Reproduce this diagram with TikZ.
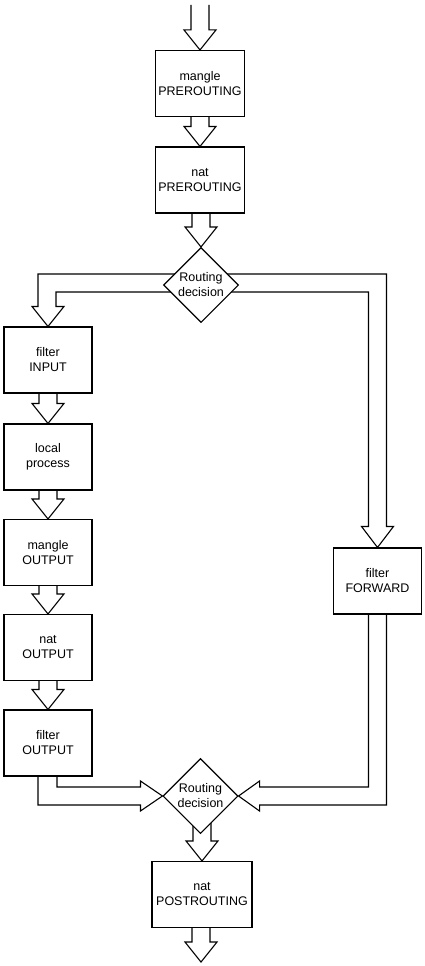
\documentclass[tikz,border=0pt]{standalone}
\usepackage{fontspec}
\setmainfont{Liberation Sans}
\usetikzlibrary{shapes.geometric, calc, backgrounds}

\begin{document}
\begin{tikzpicture}[
  x=1pt, y=-1pt,
  chain/.style={rectangle, draw=black, fill=white, line width=1.1pt,
    minimum width=88pt, minimum height=66pt, inner sep=3pt, align=center,
    font=\fontsize{12.5}{15}\selectfont},
  decision/.style={diamond, draw=black, fill=white, line width=1.1pt,
    minimum width=75pt, minimum height=75pt, inner sep=0pt, align=center,
    font=\fontsize{12.5}{15}\selectfont},
  blk/.style={draw=black, fill=white, line width=1.1pt, line join=miter}
]
\useasboundingbox (0,0) rectangle (425,966);

% ---- Ends of the packet path ----
\coordinate (in) at (201,5);
\coordinate (out) at (201,962);

% ---- PREROUTING ----
\node[chain] (mpre) at (200,83.5) {mangle\\PREROUTING};
\node[chain] (npre) at (200,180) {nat\\PREROUTING};
\node[decision] (rd1) at (201,285) {Routing\\decision};

% ---- Local path ----
\node[chain] (fin) at (48,360) {filter\\INPUT};
\node[chain] (lp) at (48,457) {local\\process};
\node[chain] (mout) at (48,552.5) {mangle\\OUTPUT};
\node[chain] (nout) at (48,647.5) {nat\\OUTPUT};
\node[chain] (fout) at (48,743) {filter\\OUTPUT};

% ---- Forward path ----
\node[chain] (fwd) at (377.5,581) {filter\\FORWARD};

% ---- POSTROUTING ----
\node[decision] (rd2) at (200.5,796) {Routing\\decision};
\node[chain, minimum width=100pt] (npost) at (202,894.5) {nat\\POSTROUTING};

\begin{pgfonlayer}{background}
% ---- Straight block arrows ----
\foreach \src/\dst in {in/mpre.north, mpre.south/npre.north, npre.south/rd1.north,
    fin.south/lp.north, lp.south/mout.north, mout.south/nout.north,
    nout.south/fout.north, rd2.center/npost.north, npost.south/out}
  \draw[blk] let \p1=(\src), \p2=(\dst) in
    (\x2-9pt,\y1) -- (\x2-9pt,\y2+20pt) -- (\x2-16pt,\y2+20pt) -- (\x2,\y2)
    -- (\x2+16pt,\y2+20pt) -- (\x2+9pt,\y2+20pt) -- (\x2+9pt,\y1);

% ---- Branches out of the first decision ----
\draw[blk] let \p1=(rd1.center), \p2=(fin.north) in
  (\x1,\y1+11pt) -- (\x2-10pt,\y1+11pt) -- (\x2-10pt,\y2+20pt) -- (\x2-16pt,\y2+20pt)
  -- (\x2,\y2) -- (\x2+16pt,\y2+20pt) -- (\x2+8pt,\y2+20pt) -- (\x2+8pt,\y1-7pt)
  -- (\x1,\y1-7pt);
\draw[blk] let \p1=(rd1.center), \p2=(fwd.north) in
  (\x1,\y1+11pt) -- (\x2+9pt,\y1+11pt) -- (\x2+9pt,\y2+21pt) -- (\x2+16pt,\y2+21pt)
  -- (\x2,\y2) -- (\x2-16pt,\y2+21pt) -- (\x2-9pt,\y2+21pt) -- (\x2-9pt,\y1-7pt)
  -- (\x1,\y1-7pt);

% ---- Joins into the second decision ----
\draw[blk] let \p1=(fout.south), \p2=(rd2.west) in
  (\x1-10pt,\y1) -- (\x1-10pt,\y2-9pt) -- (\x2-22pt,\y2-9pt) -- (\x2-22pt,\y2-15pt)
  -- (\x2,\y2) -- (\x2-22pt,\y2+15pt) -- (\x2-22pt,\y2+9pt) -- (\x1+9pt,\y2+9pt)
  -- (\x1+9pt,\y1);
\draw[blk] let \p1=(fwd.south), \p2=(rd2.east) in
  (\x1+9pt,\y1) -- (\x1+9pt,\y2-9pt) -- (\x2+21pt,\y2-9pt) -- (\x2+21pt,\y2-15pt)
  -- (\x2,\y2) -- (\x2+21pt,\y2+15pt) -- (\x2+21pt,\y2+9pt) -- (\x1-9pt,\y2+9pt)
  -- (\x1-9pt,\y1);
\end{pgfonlayer}

\end{tikzpicture}
\end{document}
